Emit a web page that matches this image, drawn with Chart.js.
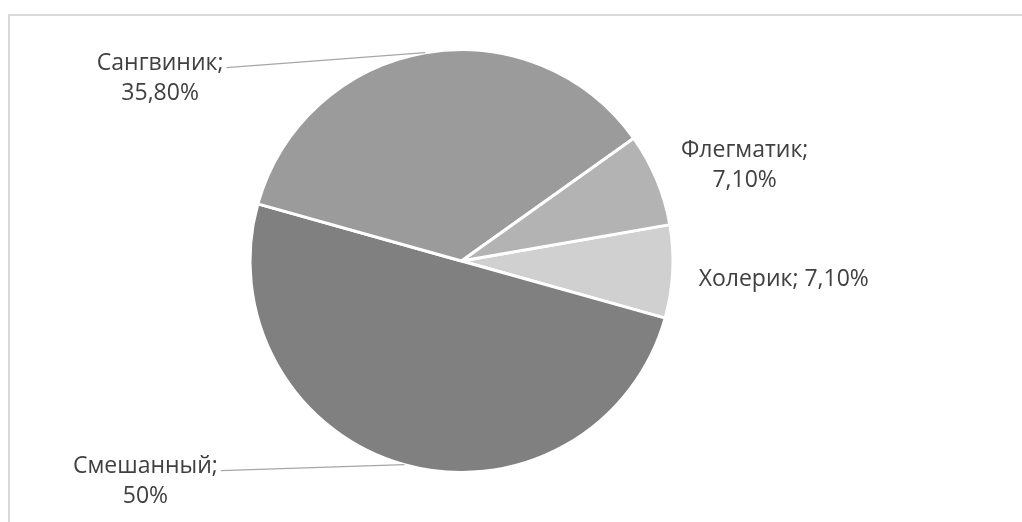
<!DOCTYPE html>
<html>
<head>
<meta charset="utf-8">
<script src="https://cdn.jsdelivr.net/npm/chart.js@4.4.1/dist/chart.umd.min.js"></script>
<style>
  html, body { margin: 0; padding: 0; background: #fff; }
  #wrap { width: 1022px; height: 522px; }
</style>
</head>
<body>
<div id="wrap"><canvas id="pieChart" width="1022" height="522"></canvas></div>
<script>
// Данные диаграммы (по часовой стрелке)
const categories = ['Холерик', 'Смешанный', 'Сангвиник', 'Флегматик'];
const percents = [7.1, 50, 35.8, 7.1];
const valueLabels = ['7,10%', '50%', '35,80%', '7,10%'];
const sliceColors = ['#d0d0d0', '#808080', '#9b9b9b', '#b3b3b3'];

// Смещение подписей от края сектора (точка на середине дуги)
const labelOffsets = [[111, 8], [-259, 17], [-265, 26], [88, -14]];
const twoLines = [false, true, true, true];
const withLeader = [false, true, true, false];

const labelFont = '23px "Open Sans", sans-serif';
const lineGap = 30;

// Рамка (верх и левая сторона) и подписи с выносками
const pieLabels = {
    id: 'pieLabels',
    beforeDraw(chart) {
        const ctx = chart.ctx;
        ctx.save();
        ctx.strokeStyle = '#d9d9d9';
        ctx.lineWidth = 2;
        ctx.beginPath();
        ctx.moveTo(9, 522);
        ctx.lineTo(9, 15);
        ctx.lineTo(1022, 15);
        ctx.stroke();
        ctx.restore();
    },
    afterDatasetsDraw(chart) {
        const ctx = chart.ctx;
        const arcs = chart.getDatasetMeta(0).data;
        ctx.save();
        ctx.font = labelFont;
        ctx.fillStyle = '#404040';
        ctx.textAlign = 'center';
        ctx.textBaseline = 'middle';
        arcs.forEach((arc, i) => {
            const p = arc.getProps(['x', 'y', 'startAngle', 'endAngle', 'outerRadius'], true);
            const mid = (p.startAngle + p.endAngle) / 2;
            const ex = p.x + Math.cos(mid) * p.outerRadius;
            const ey = p.y + Math.sin(mid) * p.outerRadius;
            const lx = ex + labelOffsets[i][0];
            const ly = ey + labelOffsets[i][1];
            if (twoLines[i]) {
                const first = categories[i] + ';';
                ctx.fillText(first, lx, ly - lineGap / 2);
                ctx.fillText(valueLabels[i], lx, ly + lineGap / 2);
                if (withLeader[i]) {
                    const w = ctx.measureText(first).width;
                    ctx.save();
                    ctx.strokeStyle = '#a6a6a6';
                    ctx.lineWidth = 1.3;
                    ctx.beginPath();
                    ctx.moveTo(lx + w / 2 + 3, ly - lineGap / 2 + 4);
                    ctx.lineTo(ex, ey);
                    ctx.stroke();
                    ctx.restore();
                }
            } else {
                ctx.fillText(categories[i] + '; ' + valueLabels[i], lx, ly);
            }
        });
        ctx.restore();
    }
};

new Chart(document.getElementById('pieChart').getContext('2d'), {
    type: 'pie',
    data: {
        labels: categories,
        datasets: [{
            data: percents,
            backgroundColor: sliceColors,
            borderColor: '#ffffff',
            borderWidth: 3
        }]
    },
    options: {
        responsive: false,
        animation: false,
        rotation: 80.1,
        layout: { padding: { top: 48, bottom: 48, left: 248.5, right: 347.5 } },
        plugins: {
            legend: { display: false },
            tooltip: { enabled: false }
        }
    },
    plugins: [pieLabels]
});
</script>
</body>
</html>
